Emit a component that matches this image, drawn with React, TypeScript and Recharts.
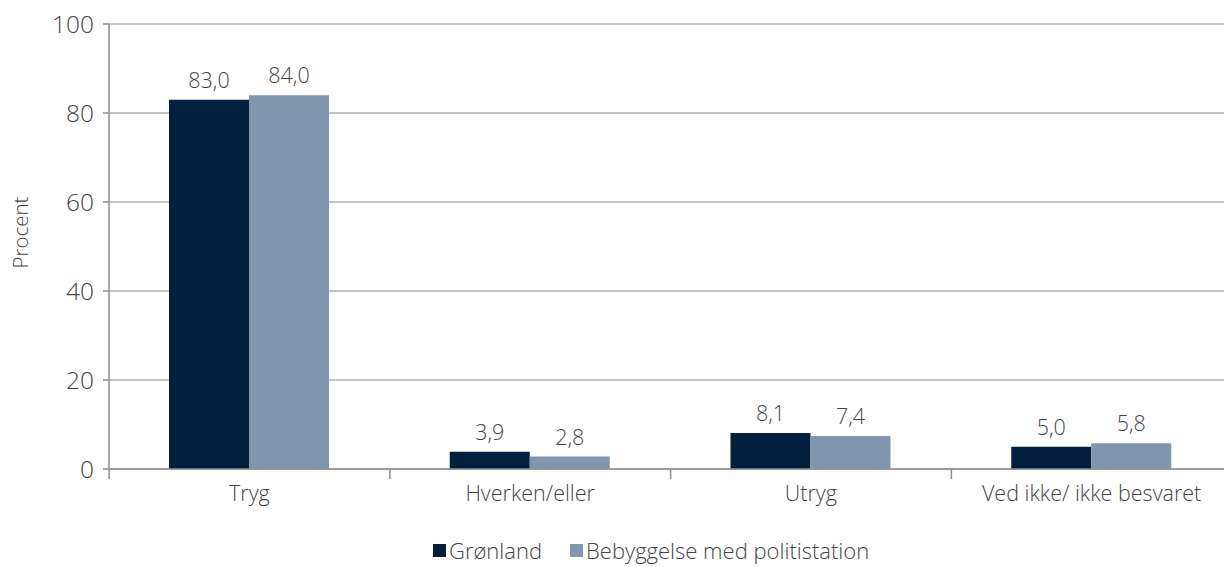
import { Bar, BarChart, CartesianGrid, LabelList, Legend, XAxis, YAxis } from 'recharts';

const categories = ['Tryg', 'Hverken/eller', 'Utryg', 'Ved ikke/ ikke besvaret'];
const groenland = [83.0, 3.9, 8.1, 5.0];
const politistation = [84.0, 2.8, 7.4, 5.8];
const yTicks = [0, 20, 40, 60, 80, 100];

const series = [
  { key: 'groenland', name: 'Grønland', color: '#021f3d' },
  { key: 'politistation', name: 'Bebyggelse med politistation', color: '#8095ae' },
];

const data = categories.map((c, i) => ({ cat: c, groenland: groenland[i], politistation: politistation[i] }));

const FONT = '"Open Sans", "Noto Sans", sans-serif';
const TEXT = '#444444';
const LINE = '#8c8c8c';
const BAND = 280.5;

const fmt = (v: number) => v.toFixed(1).replace('.', ',');

function CatTick(props: any) {
  const { x, y, payload } = props;
  return (
    <g>
      <line x1={x - BAND / 2} x2={x - BAND / 2} y1={y - 8} y2={y + 2} stroke={LINE} strokeWidth={1.5} />
      <text x={x} y={y + 24} textAnchor="middle" fill={TEXT} fontSize={21.5} fontFamily={FONT} fontWeight={300}>
        {payload.value}
      </text>
    </g>
  );
}

function YLabel(props: any) {
  const { viewBox } = props;
  const cx = 20;
  const cy = viewBox.y + viewBox.height / 2 - 14;
  return (
    <text x={cx} y={cy} transform={`rotate(-90 ${cx} ${cy})`} textAnchor="middle" dominantBaseline="central" fill={TEXT} fontSize={20.5} fontFamily={FONT} fontWeight={300}>
      Procent
    </text>
  );
}

function LegendBox() {
  return (
    <div style={{ display: 'flex', paddingLeft: 433, paddingTop: 8, gap: 28, fontFamily: FONT, fontWeight: 300, fontSize: 22, color: TEXT, lineHeight: '26px' }}>
      {series.map((s) => (
        <span key={s.key} style={{ display: 'flex', alignItems: 'center' }}>
          <span style={{ width: 13, height: 13, background: s.color, marginRight: 3, display: 'inline-block' }} />
          {s.name}
        </span>
      ))}
    </div>
  );
}

export default function App() {
  return (
    <div style={{ position: 'absolute', left: 0, top: 0, width: 1224, height: 567, background: '#fff', overflow: 'hidden' }}>
      <BarChart
        width={1232}
        height={567}
        data={data}
        margin={{ top: 24, right: 0, left: 0, bottom: 0 }}
        barCategoryGap={60}
        barGap={0}
      >
        <CartesianGrid vertical={false} stroke={LINE} strokeWidth={1.2} />
        <XAxis
          dataKey="cat"
          stroke={LINE}
          strokeWidth={1.5}
          tickLine={false}
          tick={<CatTick />}
          height={60}
          interval={0}
        />
        <YAxis
          width={109}
          domain={[0, 100]}
          ticks={yTicks}
          stroke={LINE}
          strokeWidth={1.5}
          tickSize={6}
          tickMargin={9}
          tick={{ fill: TEXT, fontSize: 24.5, fontFamily: FONT, fontWeight: 300 }}
          label={<YLabel />}
        />
        <Legend verticalAlign="bottom" align="left" height={38} content={<LegendBox />} />
        {series.map((s) => (
          <Bar key={s.key} dataKey={s.key} name={s.name} fill={s.color} isAnimationActive={false}>
            <LabelList
              dataKey={s.key}
              position="top"
              offset={12}
              formatter={(v: any) => fmt(Number(v))}
              style={{ fill: TEXT, fontSize: 21.5, fontFamily: FONT, fontWeight: 300 }}
            />
          </Bar>
        ))}
      </BarChart>
    </div>
  );
}
